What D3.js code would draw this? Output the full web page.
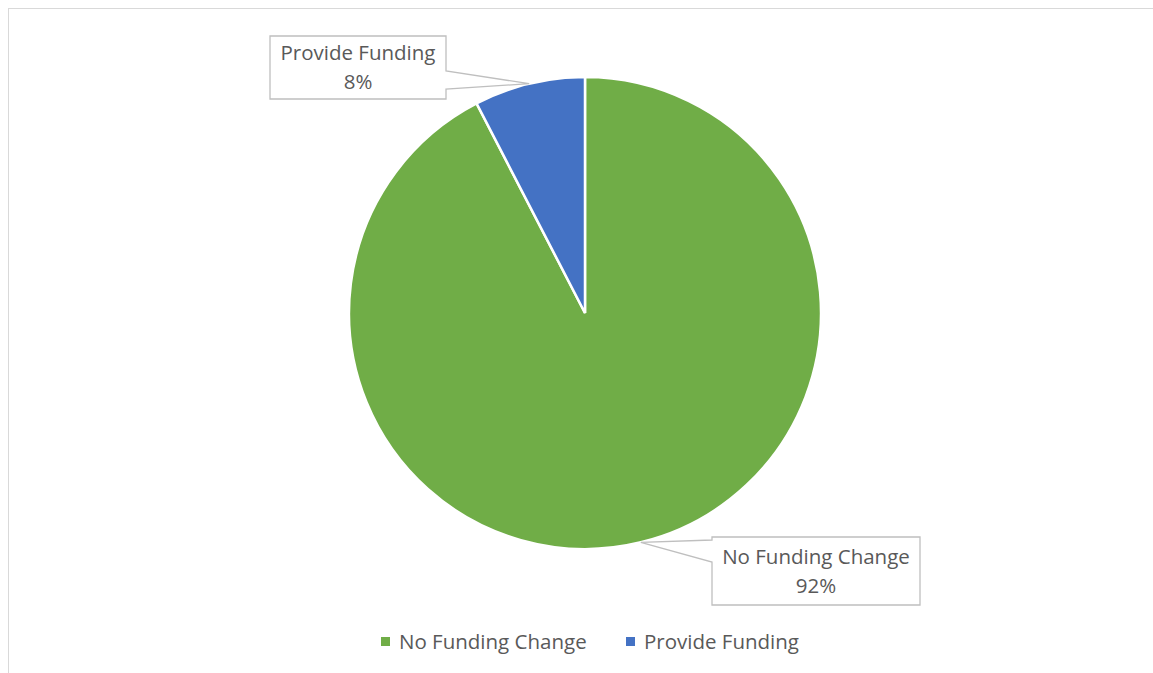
<!DOCTYPE html>
<html>
<head>
<meta charset="utf-8">
<script src="https://cdn.jsdelivr.net/npm/d3@7"></script>
<style>
  body { margin: 0; background: #fff; }
  text { font-family: "Open Sans", "Noto Sans", sans-serif; fill: #595959; }
</style>
</head>
<body>
<div id="chart"></div>
<script>
// Chart data
const categories = ['No Funding Change', 'Provide Funding'];
const values = [92.4, 7.6];
const percentLabels = ['92%', '8%'];
const colors = ['#70AD47', '#4472C4'];

const width = 1153, height = 673;
const cx = 585, cy = 313, radius = 236;

const svg = d3.select('#chart').append('svg')
    .attr('width', width)
    .attr('height', height);

// Chart area border
svg.append('rect')
    .attr('x', 8.5).attr('y', 8.5)
    .attr('width', width + 10).attr('height', height + 10)
    .style('fill', 'none')
    .style('stroke', '#d9d9d9')
    .style('stroke-width', 1);

const pie = d3.pie().sort(null).value(d => d);
const arcs = pie(values);
const arc = d3.arc().innerRadius(0).outerRadius(radius);
const edgeArc = d3.arc().innerRadius(radius).outerRadius(radius);

const g = svg.append('g').attr('transform', `translate(${cx},${cy})`);

g.selectAll('path.slice')
    .data(arcs)
    .enter()
    .append('path')
    .attr('class', 'slice')
    .attr('d', arc)
    .style('fill', (d, i) => colors[i])
    .style('stroke', '#fff')
    .style('stroke-width', 2.5);

// Callout boxes (layout positions relative to page)
const callouts = [
    { x: 712, y: 537, w: 208, h: 68, side: 'left', w1: 540, w2: 562 },
    { x: 270, y: 36, w: 176, h: 63, side: 'right', w1: 71, w2: 89 }
];

arcs.forEach((d, i) => {
    const c = callouts[i];
    const tip = edgeArc.centroid(d);
    const tx = tip[0] + cx, ty = tip[1] + cy;
    let p;
    if (c.side === 'right') {
        p = `M${c.x},${c.y} H${c.x + c.w} V${c.w1} L${tx},${ty} L${c.x + c.w},${c.w2} V${c.y + c.h} H${c.x} Z`;
    } else {
        p = `M${c.x},${c.y} H${c.x + c.w} V${c.y + c.h} H${c.x} V${c.w2} L${tx},${ty} L${c.x},${c.w1} Z`;
    }
    svg.append('path')
        .attr('d', p)
        .style('fill', '#fff')
        .style('stroke', '#bfbfbf')
        .style('stroke-width', 1.3);

    const t = svg.append('text')
        .attr('x', c.x + c.w / 2)
        .attr('y', c.y + c.h / 2 - 2)
        .attr('text-anchor', 'middle')
        .style('font-size', '20.5px');
    t.append('tspan').attr('x', c.x + c.w / 2).attr('dy', '-0.25em').text(categories[i]);
    t.append('tspan').attr('x', c.x + c.w / 2).attr('dy', '1.4em').text(percentLabels[i]);
});

// Legend
const legendItems = [
    { x: 381, label: categories[0], color: colors[0] },
    { x: 626, label: categories[1], color: colors[1] }
];
const legend = svg.append('g');
legendItems.forEach(item => {
    legend.append('rect')
        .attr('x', item.x).attr('y', 637)
        .attr('width', 9).attr('height', 9)
        .style('fill', item.color);
    legend.append('text')
        .attr('x', item.x + 18).attr('y', 642)
        .attr('dy', '0.35em')
        .style('font-size', '20.5px')
        .text(item.label);
});
</script>
</body>
</html>
